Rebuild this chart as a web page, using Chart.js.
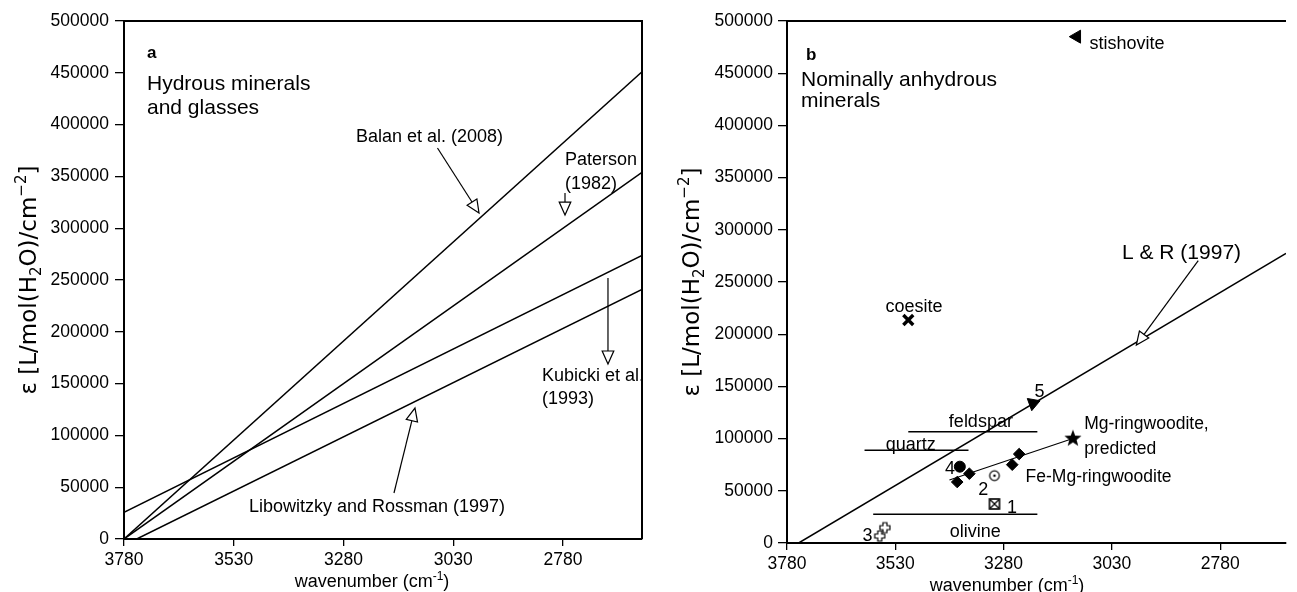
<!DOCTYPE html>
<html>
<head>
<meta charset="utf-8">
<script src="https://cdn.jsdelivr.net/npm/chart.js@4.4.1/dist/chart.umd.min.js"></script>
<style>
html,body{margin:0;padding:0;background:#fff;overflow:hidden;}
#wrap{position:relative;width:1297px;height:592px;}
canvas{position:absolute;top:0;}
#ca{left:0;}
#cb{left:650px;}
</style>
</head>
<body>
<div id="wrap">
<canvas id="ca" width="650" height="592"></canvas>
<canvas id="cb" width="647" height="592"></canvas>
</div>
<script>
// ---------------- DATA ----------------
const xTickValues = [3780, 3530, 3280, 3030, 2780];
const xTickLabels = ['3780', '3530', '3280', '3030', '2780'];
const yTickValues = [0, 50000, 100000, 150000, 200000, 250000, 300000, 350000, 400000, 450000, 500000];
const yTickLabels = ['0', '50000', '100000', '150000', '200000', '250000', '300000', '350000', '400000', '450000', '500000'];

// Panel a: calibration lines (wavenumber, epsilon)
const balanX = [3780, 2600], balanY = [0, 451000];
const patersonX = [3780, 2600], patersonY = [0, 354000];
const kubickiX = [3780, 2600], kubickiY = [25800, 273700];
const libowitzkyX = [3751, 2600], libowitzkyY = [0, 240800];

// Panel b: nominally anhydrous minerals
const lrX = [3753, 2628], lrY = [0, 277400];
const feldsparX = [3500, 3202], feldsparY = [106600, 106600];
const quartzX = [3601, 3361], quartzY = [88800, 88800];
const olivineX = [3581, 3202], olivineY = [27500, 27500];
const rwFitX = [3405, 3120], rwFitY = [60300, 100000];
const feMgRwX = [3387, 3359, 3260, 3244], feMgRwY = [58400, 66400, 75000, 85200];
const mgRwX = [3120], mgRwY = [100000];
const stishoviteX = [3111], stishoviteY = [485000];
const coesiteX = [3500], coesiteY = [213600];
const s1X = [3301], s1Y = [37400];
const s2X = [3301], s2Y = [64500];
const s3X = [3554, 3566], s3Y = [14700, 6700];
const s4X = [3381], s4Y = [73100];
const s5X = [3212], s5Y = [133800];

// ---------------- HELPERS ----------------
const FAMILY = '"Liberation Sans", Arial, Helvetica, sans-serif';
const TFAMILY = '"DejaVu Sans", Verdana, sans-serif';
Chart.defaults.font.family = FAMILY;
Chart.defaults.color = '#000';

function pts(xs, ys) { return xs.map((x, i) => ({x: x, y: ys[i]})); }
function lineDs(xs, ys, w) {
  return {data: pts(xs, ys), showLine: true, borderColor: '#000', borderWidth: w || 1.5,
          pointRadius: 0, pointHoverRadius: 0, fill: false};
}
function markDs(xs, ys, style, r, extra) {
  return Object.assign({data: pts(xs, ys), showLine: false, pointStyle: style, pointRadius: r,
    pointHoverRadius: r, backgroundColor: '#000', borderColor: '#000', borderWidth: 1}, extra || {});
}
function makeImg(size, fn) {
  const c = document.createElement('canvas');
  c.width = size; c.height = size;
  fn(c.getContext('2d'), size / 2);
  return c;
}
const openPlus = makeImg(14, (g, c) => {
  const a = 2, L = 5;
  g.beginPath();
  g.moveTo(c - a, c - L); g.lineTo(c + a, c - L); g.lineTo(c + a, c - a); g.lineTo(c + L, c - a);
  g.lineTo(c + L, c + a); g.lineTo(c + a, c + a); g.lineTo(c + a, c + L); g.lineTo(c - a, c + L);
  g.lineTo(c - a, c + a); g.lineTo(c - L, c + a); g.lineTo(c - L, c - a); g.lineTo(c - a, c - a);
  g.closePath(); g.fillStyle = '#fff'; g.fill(); g.lineWidth = 1.2; g.strokeStyle = '#000'; g.stroke();
});
const circleDot = makeImg(14, (g, c) => {
  g.beginPath(); g.arc(c, c, 4.8, 0, Math.PI * 2); g.fillStyle = '#fff'; g.fill();
  g.lineWidth = 1.2; g.strokeStyle = '#000'; g.stroke();
  g.beginPath(); g.arc(c, c, 1.3, 0, Math.PI * 2); g.fillStyle = '#000'; g.fill();
});
const boxX = makeImg(14, (g, c) => {
  g.fillStyle = '#fff'; g.fillRect(c - 5, c - 5, 10, 10);
  g.lineWidth = 1.6; g.strokeStyle = '#000'; g.strokeRect(c - 5, c - 5, 10, 10);
  g.lineWidth = 1.2; g.beginPath();
  g.moveTo(c - 4, c - 4); g.lineTo(c + 4, c + 4); g.moveTo(c + 4, c - 4); g.lineTo(c - 4, c + 4); g.stroke();
});
const filledStar = makeImg(22, (g, c) => {
  g.beginPath();
  for (let i = 0; i < 10; i++) {
    const r = i % 2 === 0 ? 9 : 3.8;
    const ang = -Math.PI / 2 + i * Math.PI / 5;
    const px = c + r * Math.cos(ang), py = c + r * Math.sin(ang);
    if (i === 0) g.moveTo(px, py); else g.lineTo(px, py);
  }
  g.closePath(); g.fillStyle = '#000'; g.fill();
});

function drawRich(ctx, segs, x, y, align, rot, family) {
  ctx.save();
  ctx.translate(x, y); ctx.rotate(rot || 0);
  let total = 0;
  const widths = segs.map(s => { ctx.font = s.s + 'px ' + family; const w = ctx.measureText(s.t).width; total += w; return w; });
  let cx = align === 'center' ? -total / 2 : 0;
  ctx.textBaseline = 'alphabetic'; ctx.textAlign = 'left'; ctx.fillStyle = '#000';
  segs.forEach((s, i) => { ctx.font = s.s + 'px ' + family; ctx.fillText(s.t, cx, s.dy || 0); cx += widths[i]; });
  ctx.restore();
}

function arrow(ctx, x0, y0, x1, y1) {
  const len = 13, hw = 5.8;
  const dx = x1 - x0, dy = y1 - y0, d = Math.hypot(dx, dy);
  const ux = dx / d, uy = dy / d;
  const bx = x1 - ux * len, by = y1 - uy * len;
  ctx.save();
  ctx.strokeStyle = '#000'; ctx.lineWidth = 1.2;
  ctx.beginPath(); ctx.moveTo(x0, y0); ctx.lineTo(bx, by); ctx.stroke();
  ctx.beginPath();
  ctx.moveTo(x1, y1); ctx.lineTo(bx - uy * hw, by + ux * hw); ctx.lineTo(bx + uy * hw, by - ux * hw); ctx.closePath();
  ctx.fillStyle = '#fff'; ctx.fill(); ctx.stroke();
  ctx.restore();
}

const xTitleSegs = [{t: 'wavenumber (cm', s: 18}, {t: '-1', s: 12, dy: -7}, {t: ')', s: 18}];
const yTitleSegs = [{t: 'ε [L/mol(H', s: 23}, {t: '2', s: 15, dy: 5}, {t: 'O)/cm', s: 23}, {t: '−2', s: 15, dy: -10}, {t: ']', s: 23}];

function annotPlugin(cfg) {
  return {
    id: 'annot' + cfg.name,
    afterDatasetsDraw(chart) {
      const ctx = chart.ctx, xs = chart.scales.x, ys = chart.scales.y;
      cfg.arrows.forEach(a => arrow(ctx, xs.getPixelForValue(a.x0), ys.getPixelForValue(a.y0),
                                         xs.getPixelForValue(a.x1), ys.getPixelForValue(a.y1)));
      ctx.save();
      ctx.fillStyle = '#000'; ctx.textBaseline = 'middle';
      cfg.texts.forEach(t => {
        ctx.font = (t.bold ? 'bold ' : '') + t.size + 'px ' + FAMILY;
        ctx.textAlign = t.align || 'left';
        ctx.fillText(t.t, xs.getPixelForValue(t.x), ys.getPixelForValue(t.y));
      });
      ctx.restore();
    },
    afterDraw(chart) {
      const ctx = chart.ctx, ca = chart.chartArea;
      ctx.save();
      ctx.strokeStyle = '#000'; ctx.lineWidth = 2;
      ctx.beginPath();
      ctx.moveTo(ca.left - 1, ca.top); ctx.lineTo(ca.right, ca.top);
      if (cfg.rightBorder) { ctx.lineTo(ca.right, ca.bottom); }
      ctx.stroke();
      ctx.restore();
      drawRich(ctx, xTitleSegs, ca.left + cfg.xTitleDx, ca.bottom + cfg.xTitleDy, 'center', 0, FAMILY);
      drawRich(ctx, yTitleSegs, ca.left - cfg.yTitleDx, (ca.top + ca.bottom) / 2, 'center', -Math.PI / 2, TFAMILY);
    }
  };
}

function scalesFor(xMin, yWidth, xHeight, yPad) {
  return {
    x: {
      type: 'linear', min: xMin, max: 3780, reverse: true,
      afterBuildTicks: s => { s.ticks = xTickValues.map(v => ({value: v})); },
      afterFit: s => { s.height = xHeight; },
      ticks: {callback: (v, i) => xTickLabels[i], font: {size: 17.5}, color: '#000', padding: 4, maxRotation: 0, autoSkip: false},
      grid: {display: true, drawOnChartArea: false, drawTicks: true, tickLength: 7, color: '#000', lineWidth: 1.3},
      border: {display: true, color: '#000', width: 2}
    },
    y: {
      type: 'linear', min: 0, max: 500000,
      afterBuildTicks: s => { s.ticks = yTickValues.map(v => ({value: v})); },
      afterFit: s => { s.width = yWidth; },
      ticks: {callback: (v, i) => yTickLabels[i], font: {size: 17.5}, color: '#000', padding: yPad, autoSkip: false},
      grid: {display: true, drawOnChartArea: false, drawTicks: true, tickLength: 9, color: '#000', lineWidth: 1.3},
      border: {display: true, color: '#000', width: 2}
    }
  };
}

const commonPlugins = {legend: {display: false}, tooltip: {enabled: false}};

// ---------------- PANEL A ----------------
const annotA = {
  name: 'A', rightBorder: true, xTitleDx: 248, xTitleDy: 48, yTitleDx: 88,
  texts: [
    {t: 'a', x: 3727.6, y: 469100, size: 17, bold: true},
    {t: 'Hydrous minerals', x: 3727.6, y: 439200, size: 21},
    {t: 'and glasses', x: 3727.6, y: 416000, size: 21},
    {t: 'Balan et al. (2008)', x: 3251.5, y: 388000, size: 18},
    {t: 'Paterson', x: 2775.4, y: 365800, size: 18},
    {t: '(1982)', x: 2775.4, y: 342700, size: 18},
    {t: 'Kubicki et al.', x: 2827.8, y: 157300, size: 18},
    {t: '(1993)', x: 2827.8, y: 135100, size: 18},
    {t: 'Libowitzky and Rossman (1997)', x: 3495.3, y: 30900, size: 18}
  ],
  arrows: [
    {x0: 3065.9, y0: 377400, x1: 2971.3, y1: 314700},
    {x0: 2775.4, y0: 334000, x1: 2775.4, y1: 312700},
    {x0: 2677.5, y0: 251900, x1: 2677.5, y1: 168900},
    {x0: 3165, y0: 44400, x1: 3117.1, y1: 126400}
  ]
};

new Chart(document.getElementById('ca'), {
  type: 'scatter',
  data: {datasets: [
    lineDs(balanX, balanY), lineDs(patersonX, patersonY),
    lineDs(kubickiX, kubickiY), lineDs(libowitzkyX, libowitzkyY)
  ]},
  options: {
    responsive: false, animation: false, devicePixelRatio: 1,
    layout: {padding: {top: 21, right: 8, left: 0, bottom: 0}},
    plugins: commonPlugins,
    scales: scalesFor(2600, 124, 53, 6)
  },
  plugins: [annotPlugin(annotA)]
});

// ---------------- PANEL B ----------------
const annotB = {
  name: 'B', rightBorder: false, xTitleDx: 220, xTitleDy: 48, yTitleDx: 88,
  texts: [
    {t: 'b', x: 3736.4, y: 467400, size: 17, bold: true},
    {t: 'Nominally anhydrous', x: 3747.7, y: 443500, size: 21},
    {t: 'minerals', x: 3747.7, y: 422700, size: 21},
    {t: 'stishovite', x: 3081.8, y: 478000, size: 18},
    {t: 'coesite', x: 3486.6, y: 225800, size: 18, align: 'center'},
    {t: 'feldspar', x: 3332.4, y: 116200, size: 18, align: 'center'},
    {t: 'quartz', x: 3494.2, y: 93900, size: 18, align: 'center'},
    {t: 'olivine', x: 3345.2, y: 10800, size: 18, align: 'center'},
    {t: '1', x: 3260.8, y: 33200, size: 18, align: 'center'},
    {t: '2', x: 3327.2, y: 50800, size: 18, align: 'center'},
    {t: '3', x: 3594.2, y: 6700, size: 18, align: 'center'},
    {t: '4', x: 3403.9, y: 70600, size: 18, align: 'center'},
    {t: '5', x: 3196.9, y: 144900, size: 18, align: 'center'},
    {t: 'Mg-ringwoodite,', x: 3093.8, y: 114000, size: 17.5},
    {t: 'predicted', x: 3093.8, y: 89800, size: 17.5},
    {t: 'Fe-Mg-ringwoodite', x: 3229.2, y: 62900, size: 17.5},
    {t: 'L & R (1997)', x: 3006.6, y: 277500, size: 21}
  ],
  arrows: [
    {x0: 2830.6, y0: 270400, x1: 2973.4, y1: 189700}
  ]
};

new Chart(document.getElementById('cb'), {
  type: 'scatter',
  data: {datasets: [
    lineDs(lrX, lrY, 1.5),
    lineDs(feldsparX, feldsparY, 1.6), lineDs(quartzX, quartzY, 1.6), lineDs(olivineX, olivineY, 1.6),
    lineDs(rwFitX, rwFitY, 1.1),
    markDs(feMgRwX, feMgRwY, 'rectRot', 5.8),
    markDs(mgRwX, mgRwY, filledStar, 10),
    markDs(stishoviteX, stishoviteY, 'triangle', 7.5, {pointRotation: -90}),
    markDs(coesiteX, coesiteY, 'crossRot', 7, {borderWidth: 3.4}),
    markDs(s1X, s1Y, boxX, 6),
    markDs(s2X, s2Y, circleDot, 6),
    markDs(s3X, s3Y, openPlus, 6),
    markDs(s4X, s4Y, 'circle', 5.5),
    markDs(s5X, s5Y, 'triangle', 7.5, {pointRotation: 70})
  ]},
  options: {
    responsive: false, animation: false, devicePixelRatio: 1,
    layout: {padding: {top: 21, right: 0, left: 0, bottom: 0}},
    plugins: commonPlugins,
    scales: scalesFor(2628, 137, 49, 5)
  },
  plugins: [annotPlugin(annotB)]
});
</script>
</body>
</html>
